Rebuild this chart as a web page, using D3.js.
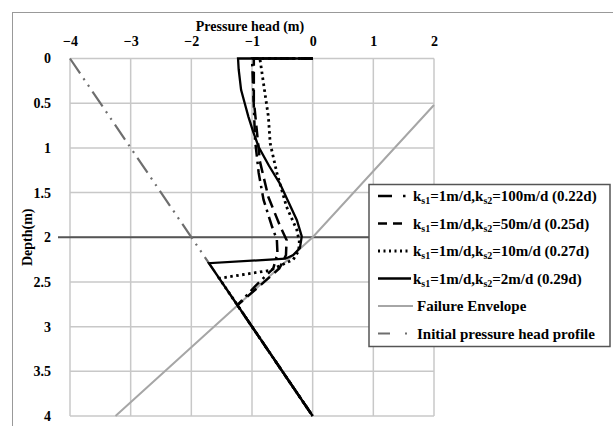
<!DOCTYPE html>
<html>
<head>
<meta charset="utf-8">
<script src="https://cdn.jsdelivr.net/npm/d3@7"></script>
<style>
  body { margin: 0; background: #fff; }
  text { font-family: "Liberation Serif", "Times New Roman", serif; font-weight: bold; fill: #000; }
</style>
</head>
<body>
<div id="chart"></div>
<script>
// tick values
const headTicks = [-4, -3, -2, -1, 0, 1, 2];
const depthTicks = [0, 0.5, 1, 1.5, 2, 2.5, 3, 3.5, 4];

// profiles as [pressure head (m), depth (m)]
const ks2_100 = [[0, 0], [-1.0, 0], [-0.98, 0.35], [-0.95, 0.91], [-0.89, 1.28], [-0.81, 1.58], [-0.67, 1.88],
  [-0.59, 2.03], [-0.58, 2.18], [-0.65, 2.35], [-0.95, 2.55], [-1.24, 2.76], [0, 4]];
const ks2_50 = [[0, 0], [-0.97, 0], [-0.97, 0.47], [-0.87, 1.15], [-0.73, 1.55], [-0.54, 1.87], [-0.43, 2.03],
  [-0.44, 2.2], [-0.55, 2.35], [-0.85, 2.53], [-1.24, 2.76], [0, 4]];
const ks2_10 = [[0, 0], [-0.87, 0], [-0.81, 0.28], [-0.73, 0.65], [-0.70, 0.95], [-0.59, 1.28], [-0.43, 1.66],
  [-0.26, 1.92], [-0.22, 2.05], [-0.23, 2.15], [-0.32, 2.25], [-0.70, 2.37], [-1.54, 2.46], [0, 4]];
const ks2_2 = [[0, 0], [-1.23, 0], [-1.22, 0.12], [-1.18, 0.35], [-1.12, 0.5], [-1.06, 0.65], [-0.98, 0.82],
  [-0.89, 0.99], [-0.72, 1.2], [-0.54, 1.4], [-0.26, 1.81], [-0.18, 1.99], [-0.21, 2.12], [-0.32, 2.2],
  [-0.45, 2.24], [-1.71, 2.29], [0, 4]];
const failureEnvelope = [[2, 0.52], [0, 2.0], [-3.25, 4]];
const initialProfile = [[-4, 0], [0, 4]];
const refDepth = 2;

const legendLabels = [
  ["k", "s1", "=1m/d,k", "s2", "=100m/d (0.22d)"],
  ["k", "s1", "=1m/d,k", "s2", "=50m/d (0.25d)"],
  ["k", "s1", "=1m/d,k", "s2", "=10m/d (0.27d)"],
  ["k", "s1", "=1m/d,k", "s2", "=2m/d (0.29d)"],
  ["Failure Envelope"],
  ["Initial pressure head profile"]
];

const W = 613, H = 426;
const svg = d3.select("#chart").append("svg")
  .attr("width", W).attr("height", H);

// outer frame
svg.append("rect")
  .attr("x", 12.5).attr("y", 12.5)
  .attr("width", 700).attr("height", 600)
  .attr("fill", "none").attr("stroke", "#999").attr("stroke-width", 1);

const x = d3.scaleLinear().domain([-4, 2]).range([70, 434]);
const y = d3.scaleLinear().domain([0, 4]).range([58.5, 416]);

// grid
const grid = svg.append("g").attr("stroke", "#c8c8c8").attr("stroke-width", 1.5);
grid.selectAll(".gx").data(headTicks).enter().append("line")
  .attr("x1", d => x(d)).attr("x2", d => x(d))
  .attr("y1", y(0)).attr("y2", y(4));
grid.selectAll(".gy").data(depthTicks).enter().append("line")
  .attr("x1", x(-4)).attr("x2", x(2))
  .attr("y1", d => y(d)).attr("y2", d => y(d));

// reference depth line
svg.append("line")
  .attr("x1", 58).attr("x2", x(2))
  .attr("y1", y(refDepth)).attr("y2", y(refDepth))
  .attr("stroke", "#555").attr("stroke-width", 2);

// axes
const xAxis = svg.append("g")
  .attr("transform", `translate(0,${y(0) - 10})`)
  .call(d3.axisTop(x).tickValues(headTicks).tickSize(0).tickFormat(d3.format("d")));
xAxis.select(".domain").remove();
xAxis.selectAll("text").style("font-size", "14px").style("font-family", "Liberation Serif").attr("dy", "0");

const yAxis = svg.append("g")
  .attr("transform", `translate(${x(-4) - 16},0)`)
  .call(d3.axisLeft(y).tickValues(depthTicks).tickSize(0).tickFormat(d => d));
yAxis.select(".domain").remove();
yAxis.selectAll("text").style("font-size", "14px").style("font-family", "Liberation Serif");

svg.append("text")
  .attr("x", 250).attr("y", 31)
  .attr("text-anchor", "middle")
  .style("font-size", "14px")
  .text("Pressure head (m)");

svg.append("text")
  .attr("transform", `translate(32,${y(2)}) rotate(-90)`)
  .attr("text-anchor", "middle")
  .style("font-size", "14px")
  .text("Depth(m)");

// lines
const line = d3.line().x(d => x(d[0])).y(d => y(d[1]));

svg.append("path").datum(failureEnvelope).attr("d", line)
  .attr("fill", "none").attr("stroke", "#a6a6a6").attr("stroke-width", 2);
svg.append("path").datum(initialProfile).attr("d", line)
  .attr("fill", "none").attr("stroke", "#6e6e6e").attr("stroke-width", 2.2)
  .attr("stroke-dasharray", "18,6,2,6,2,6");

const series = [
  { data: ks2_100, dash: "12,5,2.5,5", lw: 2.5 },
  { data: ks2_50, dash: "12,6", lw: 2.5 },
  { data: ks2_10, dash: "2.5,3.5", lw: 2.8 },
  { data: ks2_2, dash: null, lw: 2.3 }
];
series.forEach(s => {
  svg.append("path").datum(s.data).attr("d", line)
    .attr("fill", "none").attr("stroke", "#000")
    .attr("stroke-width", s.lw)
    .attr("stroke-dasharray", s.dash);
});

// legend
const lg = svg.append("g");
lg.append("rect")
  .attr("x", 369).attr("y", 184.5).attr("width", 241).attr("height", 162)
  .attr("fill", "#fff").attr("stroke", "#555").attr("stroke-width", 1.5);

const swatches = [
  { color: "#000", dash: "14,11,2.5,20", lw: 2.5 },
  { color: "#000", dash: "9,6,9,20", lw: 2.5 },
  { color: "#000", dash: "2,3.5", lw: 2.8 },
  { color: "#000", dash: null, lw: 2.5 },
  { color: "#a6a6a6", dash: null, lw: 2 },
  { color: "#6e6e6e", dash: "12,15,2,20", lw: 2.2 }
];

legendLabels.forEach((parts, i) => {
  const ry = 196 + i * 27.5;
  const sw = swatches[i];
  lg.append("line")
    .attr("x1", 378).attr("x2", i >= 4 ? 413 : 411)
    .attr("y1", ry).attr("y2", ry)
    .attr("stroke", sw.color).attr("stroke-width", sw.lw)
    .attr("stroke-dasharray", sw.dash);
  const t = lg.append("text")
    .attr("x", i >= 4 ? 417 : 413).attr("y", ry + 5)
    .style("font-size", "15px");
  parts.forEach((p, j) => {
    const sub = parts.length > 1 && j % 2 === 1;
    const ts = t.append("tspan").text(p);
    if (sub) ts.style("font-size", "10px").attr("dy", 3);
    else if (j > 0) ts.attr("dy", -3);
  });
});
</script>
</body>
</html>
